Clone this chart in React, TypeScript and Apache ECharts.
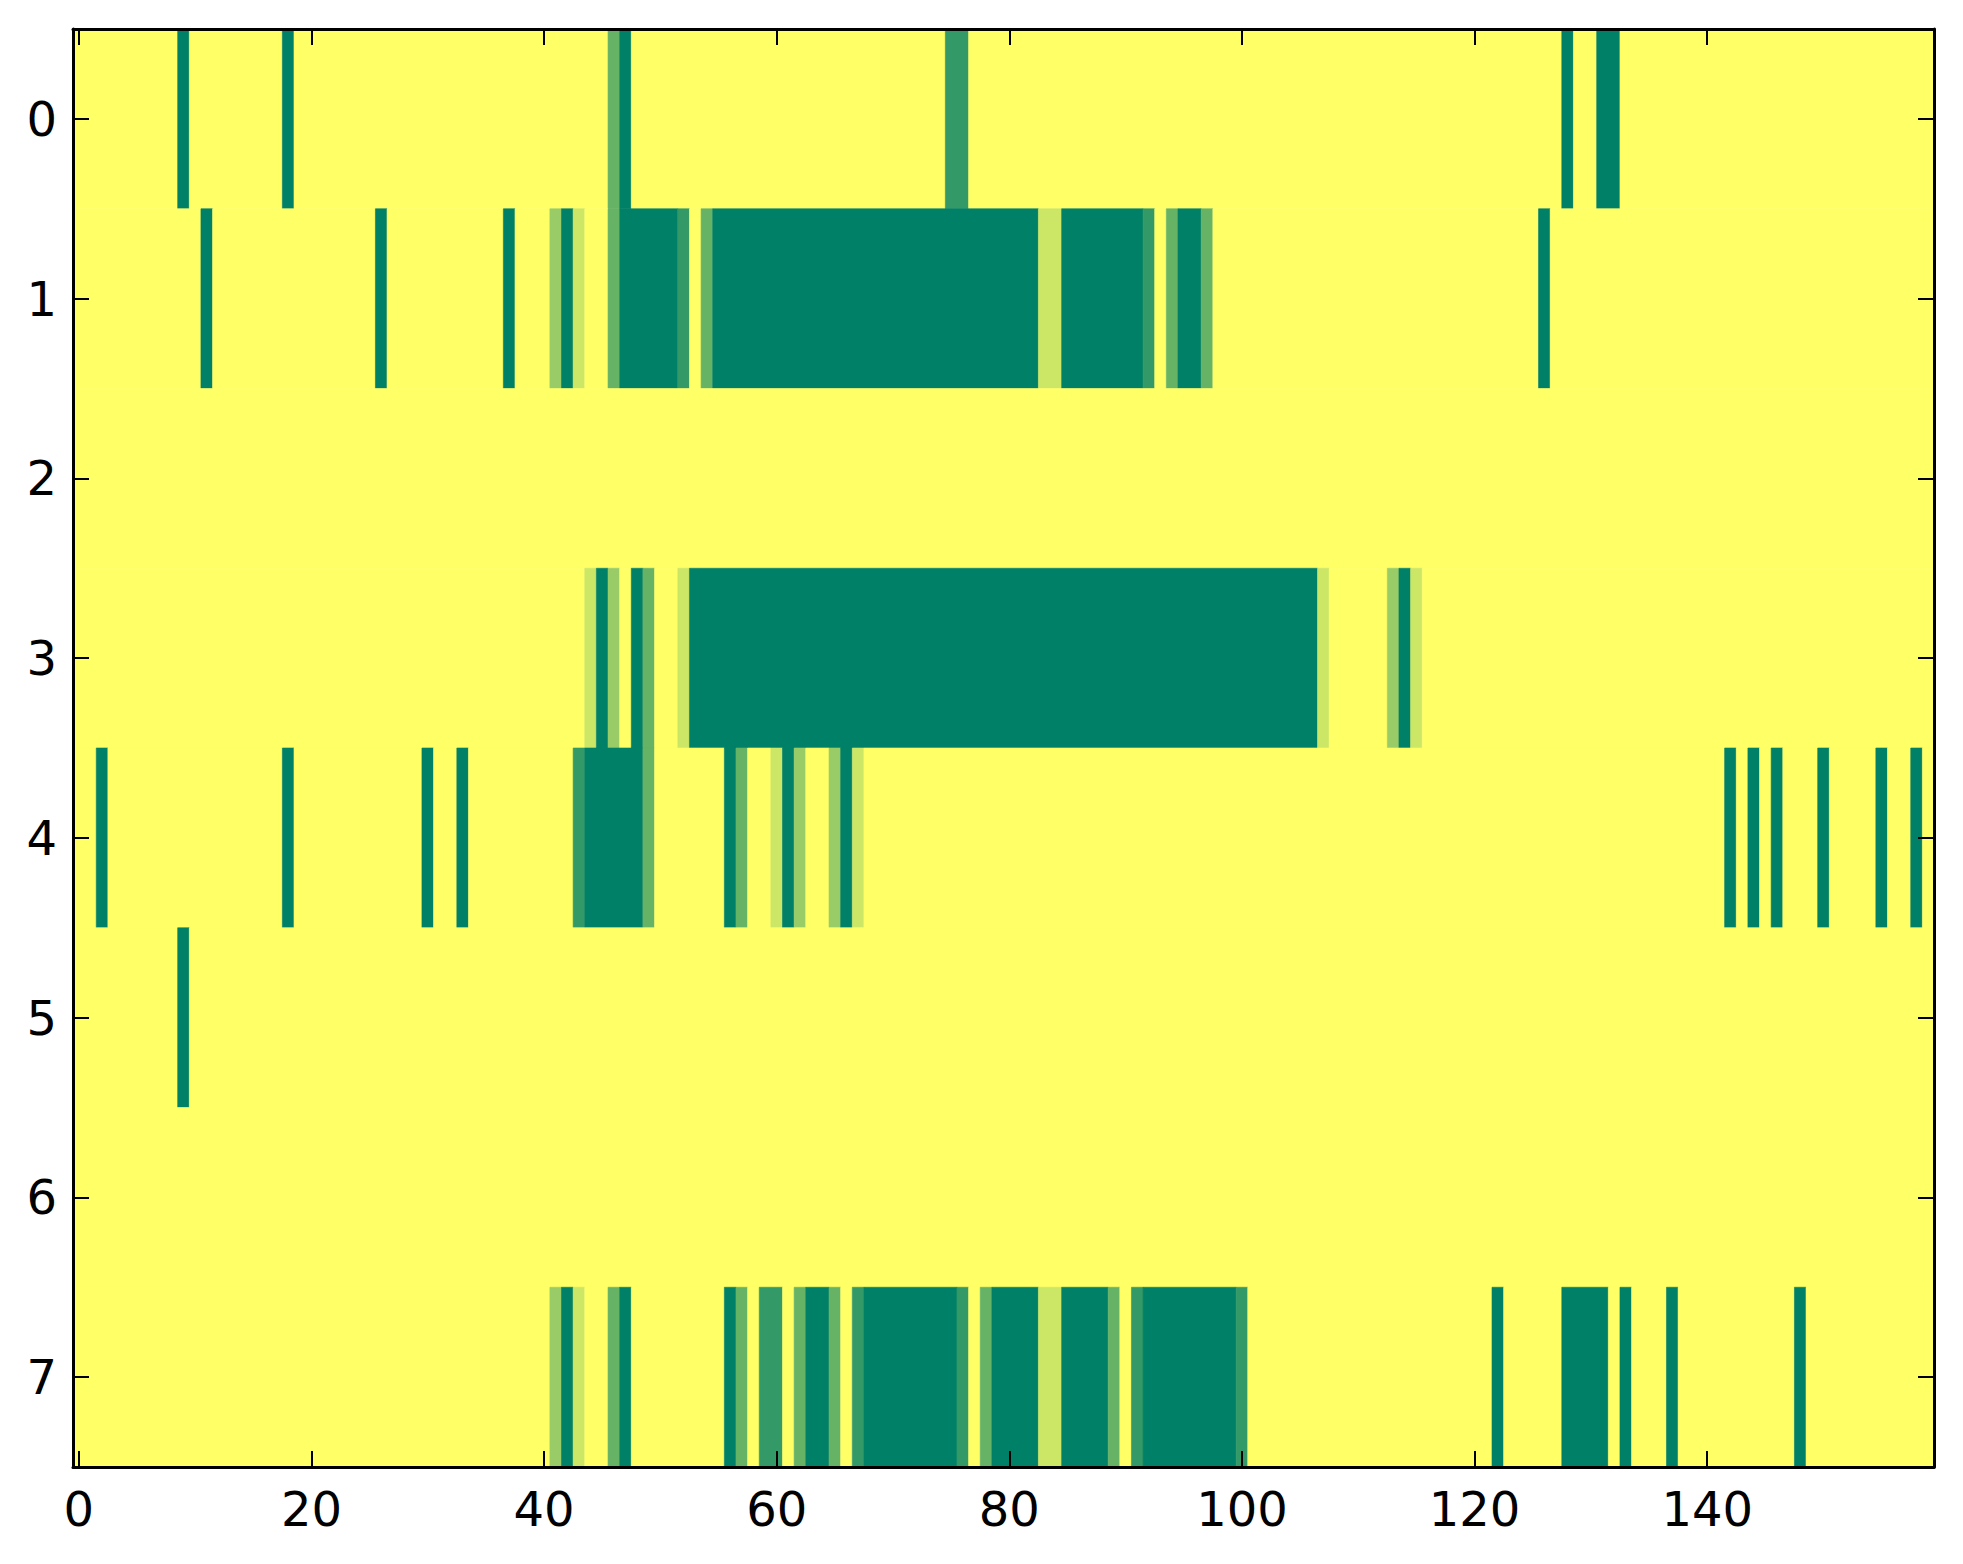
import React, { useEffect, useRef } from "react";
import * as echarts from "echarts";

// Each row: runs of [firstColumn, lastColumn, value]; every other cell is 0.
const NUM_COLS = 160;
const NUM_ROWS = 8;
const row0: number[][] = [[9, 9, 1], [18, 18, 1], [46, 46, 0.6], [47, 47, 1], [75, 76, 0.8], [128, 128, 1], [131, 132, 1]];
const row1: number[][] = [[11, 11, 1], [26, 26, 1], [37, 37, 1], [41, 41, 0.4], [42, 42, 1], [43, 43, 0.2], [46, 46, 0.6], [47, 51, 1], [52, 52, 0.8], [54, 54, 0.6], [55, 82, 1], [83, 84, 0.2], [85, 91, 1], [92, 92, 0.8], [94, 94, 0.6], [95, 96, 1], [97, 97, 0.6], [126, 126, 1]];
const row2: number[][] = [];
const row3: number[][] = [[44, 44, 0.2], [45, 45, 1], [46, 46, 0.4], [48, 48, 1], [49, 49, 0.6], [52, 52, 0.2], [53, 106, 1], [107, 107, 0.2], [113, 113, 0.4], [114, 114, 1], [115, 115, 0.2]];
const row4: number[][] = [[2, 2, 1], [18, 18, 1], [30, 30, 1], [33, 33, 1], [43, 43, 0.8], [44, 48, 1], [49, 49, 0.6], [56, 56, 1], [57, 57, 0.6], [60, 60, 0.2], [61, 61, 1], [62, 62, 0.4], [65, 65, 0.4], [66, 66, 1], [67, 67, 0.2], [142, 142, 1], [144, 144, 1], [146, 146, 1], [150, 150, 1], [155, 155, 1], [158, 158, 1]];
const row5: number[][] = [[9, 9, 1]];
const row6: number[][] = [];
const row7: number[][] = [[41, 41, 0.4], [42, 42, 1], [43, 43, 0.2], [46, 46, 0.6], [47, 47, 1], [56, 56, 1], [57, 57, 0.6], [59, 60, 0.8], [62, 62, 0.6], [63, 64, 1], [65, 65, 0.6], [67, 67, 0.8], [68, 75, 1], [76, 76, 0.8], [78, 78, 0.6], [79, 82, 1], [83, 84, 0.2], [85, 88, 1], [89, 89, 0.6], [91, 91, 0.8], [92, 99, 1], [100, 100, 0.8], [122, 122, 1], [128, 131, 1], [133, 133, 1], [137, 137, 1], [148, 148, 1]];
const rows = [row0, row1, row2, row3, row4, row5, row6, row7];

const xTicks = [0, 20, 40, 60, 80, 100, 120, 140];
const yTicks = [0, 1, 2, 3, 4, 5, 6, 7];

// Expand each row into a full line of cells, then merge equal neighbours
// into runs [firstCol, lastCol, row, value] so that the image has no seams.
function buildRuns(): number[][] {
  const out: number[][] = [];
  for (let r = 0; r < NUM_ROWS; r++) {
    const line = new Array(NUM_COLS).fill(0);
    for (const [a, b, v] of rows[r]) {
      for (let c = a; c <= b; c++) line[c] = v;
    }
    let start = 0;
    for (let c = 1; c <= NUM_COLS; c++) {
      if (c === NUM_COLS || line[c] !== line[start]) {
        out.push([start, c - 1, r, line[start]]);
        start = c;
      }
    }
  }
  return out;
}

export default function App() {
  const ref = useRef<HTMLDivElement>(null);
  useEffect(() => {
    if (!ref.current) return;
    const chart = echarts.init(ref.current, null, { renderer: "svg" });
    const font = { fontFamily: "DejaVu Sans", fontSize: 48, color: "#000" };
    const axisLine = { show: true, onZero: false, lineStyle: { color: "#000", width: 3 } };
    const tick = (vals: number[]) => ({
      show: true,
      inside: true,
      length: 16,
      customValues: vals,
      lineStyle: { color: "#000", width: 2 },
    });
    const xBase = { type: "value", min: -0.5, max: NUM_COLS - 0.5, z: 10, splitLine: { show: false }, axisLine };
    const yBase = { type: "value", min: -0.5, max: NUM_ROWS - 0.5, inverse: true, z: 10, splitLine: { show: false }, axisLine };
    chart.setOption({
      animation: false,
      backgroundColor: "#fff",
      grid: { left: 73, top: 29, width: 1861, height: 1438, containLabel: false },
      visualMap: {
        type: "continuous",
        show: false,
        min: 0,
        max: 1,
        dimension: 3,
        seriesIndex: 0,
        inRange: { color: ["#ffff66", "#008066"] },
      },
      xAxis: [
        { ...xBase, position: "bottom", axisTick: tick(xTicks), axisLabel: { ...font, margin: 18, customValues: xTicks } },
        { ...xBase, position: "top", axisTick: tick(xTicks), axisLabel: { show: false } },
      ],
      yAxis: [
        { ...yBase, position: "left", axisTick: tick(yTicks), axisLabel: { ...font, margin: 16, customValues: yTicks } },
        { ...yBase, position: "right", axisTick: tick(yTicks), axisLabel: { show: false } },
      ],
      series: [
        {
          type: "custom",
          xAxisIndex: 0,
          yAxisIndex: 0,
          z: 1,
          clip: true,
          encode: { x: [0, 1], y: 2 },
          data: buildRuns(),
          renderItem: (params: any, api: any) => {
            const x0 = api.value(0);
            const x1 = api.value(1);
            const y = api.value(2);
            const p0 = api.coord([x0 - 0.5, y - 0.5]);
            const p1 = api.coord([x1 + 0.5, y + 0.5]);
            const color = api.visual("color");
            return {
              type: "rect",
              shape: {
                x: Math.min(p0[0], p1[0]),
                y: Math.min(p0[1], p1[1]),
                width: Math.abs(p1[0] - p0[0]),
                height: Math.abs(p1[1] - p0[1]),
              },
              style: { fill: color, stroke: color, lineWidth: 0.6 },
            };
          },
        },
      ],
    });
    return () => chart.dispose();
  }, []);
  return (
    <div
      ref={ref}
      style={{ position: "absolute", left: 0, top: 0, width: 1963, height: 1564, background: "#fff" }}
    />
  );
}
